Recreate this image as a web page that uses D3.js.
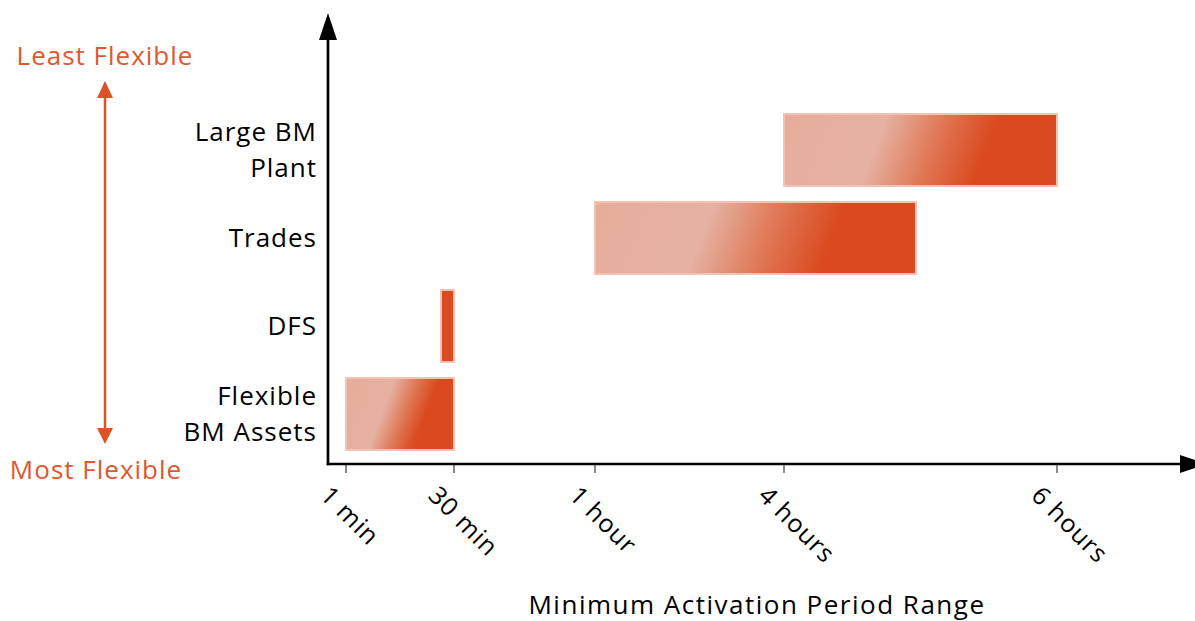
<!DOCTYPE html>
<html>
<head>
<meta charset="utf-8">
<script src="https://cdn.jsdelivr.net/npm/d3@7"></script>
<style>
  html, body { margin: 0; padding: 0; background: #fff; }
  svg { display: block; }
  text { font-family: "Open Sans", "Noto Sans", sans-serif; }
</style>
</head>
<body>
<svg id="chart" width="1195" height="621"></svg>
<script>
// ---- data ----
const categories = ["Large BM\nPlant", "Trades", "DFS", "Flexible\nBM Assets"];
const startMinutes = [240, 60, 26.5, 1];
const endMinutes = [360, 298, 30, 30];
const tickValues = [1, 30, 60, 240, 360];
const tickLabels = ["1 min", "30 min", "1 hour", "4 hours", "6 hours"];
const xTitle = "Minimum Activation Period Range";
const topNote = "Least Flexible";
const bottomNote = "Most Flexible";

// ---- layout ----
const axisX = 328, axisY = 464;
const svg = d3.select("#chart");
const defs = svg.append("defs");

const x = d3.scaleLinear()
  .domain(tickValues)
  .range([18, 126, 267, 456, 729].map(d => axisX + d));

const y = d3.scaleBand()
  .domain(categories)
  .range([114, 450])
  .paddingInner(16 / 88)
  .paddingOuter(0);

const LIGHT = "#e6ad9b", DARK = "#da4a20", RED = "#dd5127";

// ---- bars ----
const rows = categories.map((c, i) => ({ cat: c, s: startMinutes[i], e: endMinutes[i], i }));
const slope = 0.38;
rows.forEach(r => {
  const x0 = x(r.s), w = x(r.e) - x0, ym = y(r.cat) + y.bandwidth() / 2;
  const len = w / (1 + slope * slope);
  const g = defs.append("linearGradient")
    .attr("id", "grad" + r.i)
    .attr("gradientUnits", "userSpaceOnUse")
    .attr("x1", x0).attr("y1", ym)
    .attr("x2", x0 + len).attr("y2", ym + slope * len);
  [[0, LIGHT], [0.33, "#e5b1a1"], [0.55, "#df7552"], [0.74, DARK], [1, DARK]]
    .forEach(([o, c]) => g.append("stop").attr("offset", o).attr("stop-color", c));
});

svg.append("g").selectAll("rect").data(rows).join("rect")
  .attr("x", d => x(d.s))
  .attr("y", d => y(d.cat))
  .attr("width", d => x(d.e) - x(d.s))
  .attr("height", y.bandwidth())
  .attr("fill", d => (x(d.e) - x(d.s)) < 30 ? DARK : `url(#grad${d.i})`)
  .attr("stroke", "#f2c3b4")
  .attr("stroke-width", 2);

// ---- category labels ----
const lab = svg.append("g").attr("font-size", 26).attr("letter-spacing", 1)
  .attr("fill", "#000").attr("text-anchor", "end");
rows.forEach(r => {
  const lines = r.cat.split("\n");
  const cy = y(r.cat) + y.bandwidth() / 2;
  lines.forEach((ln, k) => {
    lab.append("text")
      .attr("x", 317)
      .attr("y", cy + 9 + (k - (lines.length - 1) / 2) * 36.5)
      .text(ln);
  });
});

// ---- axes ----
const ax = svg.append("g");
ax.selectAll("line.tick").data(tickValues).join("line")
  .attr("class", "tick")
  .attr("x1", d => x(d)).attr("x2", d => x(d))
  .attr("y1", axisY + 1).attr("y2", axisY + 9)
  .attr("stroke", "#8c8c8c").attr("stroke-width", 2);
ax.append("line").attr("x1", axisX - 1.3).attr("x2", 1185).attr("y1", axisY).attr("y2", axisY)
  .attr("stroke", "#000").attr("stroke-width", 2.7);
ax.append("path").attr("d", `M1180,${axisY - 9}L1207,${axisY}L1180,${axisY + 9}Z`).attr("fill", "#000");
ax.append("line").attr("x1", axisX).attr("x2", axisX).attr("y1", axisY + 1.3).attr("y2", 35)
  .attr("stroke", "#000").attr("stroke-width", 2.7);
ax.append("path").attr("d", `M${axisX - 9},40L${axisX},13L${axisX + 9},40Z`).attr("fill", "#000");

ax.selectAll("text.tl").data(tickValues).join("text")
  .attr("class", "tl")
  .attr("font-size", 25)
  .attr("letter-spacing", 1)
  .attr("transform", d => `translate(${x(d) - 27},497) rotate(45)`)
  .text((d, i) => tickLabels[i]);

// axis title
svg.append("text")
  .attr("x", 757).attr("y", 614)
  .attr("text-anchor", "middle")
  .attr("font-size", 26)
  .attr("letter-spacing", 1.5)
  .text(xTitle);

// ---- flexibility arrow ----
const ra = svg.append("g");
ra.append("line").attr("x1", 105).attr("x2", 105).attr("y1", 95).attr("y2", 431)
  .attr("stroke", RED).attr("stroke-width", 2.5);
ra.append("path").attr("d", "M97,98L105,81L113,98Z").attr("fill", RED);
ra.append("path").attr("d", "M97,428L105,444L113,428Z").attr("fill", RED);
ra.append("text").attr("x", 105).attr("y", 65).attr("text-anchor", "middle")
  .attr("font-size", 26).attr("letter-spacing", 1).attr("fill", "#e0572f").text(topNote);
ra.append("text").attr("x", 96).attr("y", 479).attr("text-anchor", "middle")
  .attr("font-size", 26).attr("letter-spacing", 1).attr("fill", "#e0572f").text(bottomNote);
</script>
</body>
</html>
